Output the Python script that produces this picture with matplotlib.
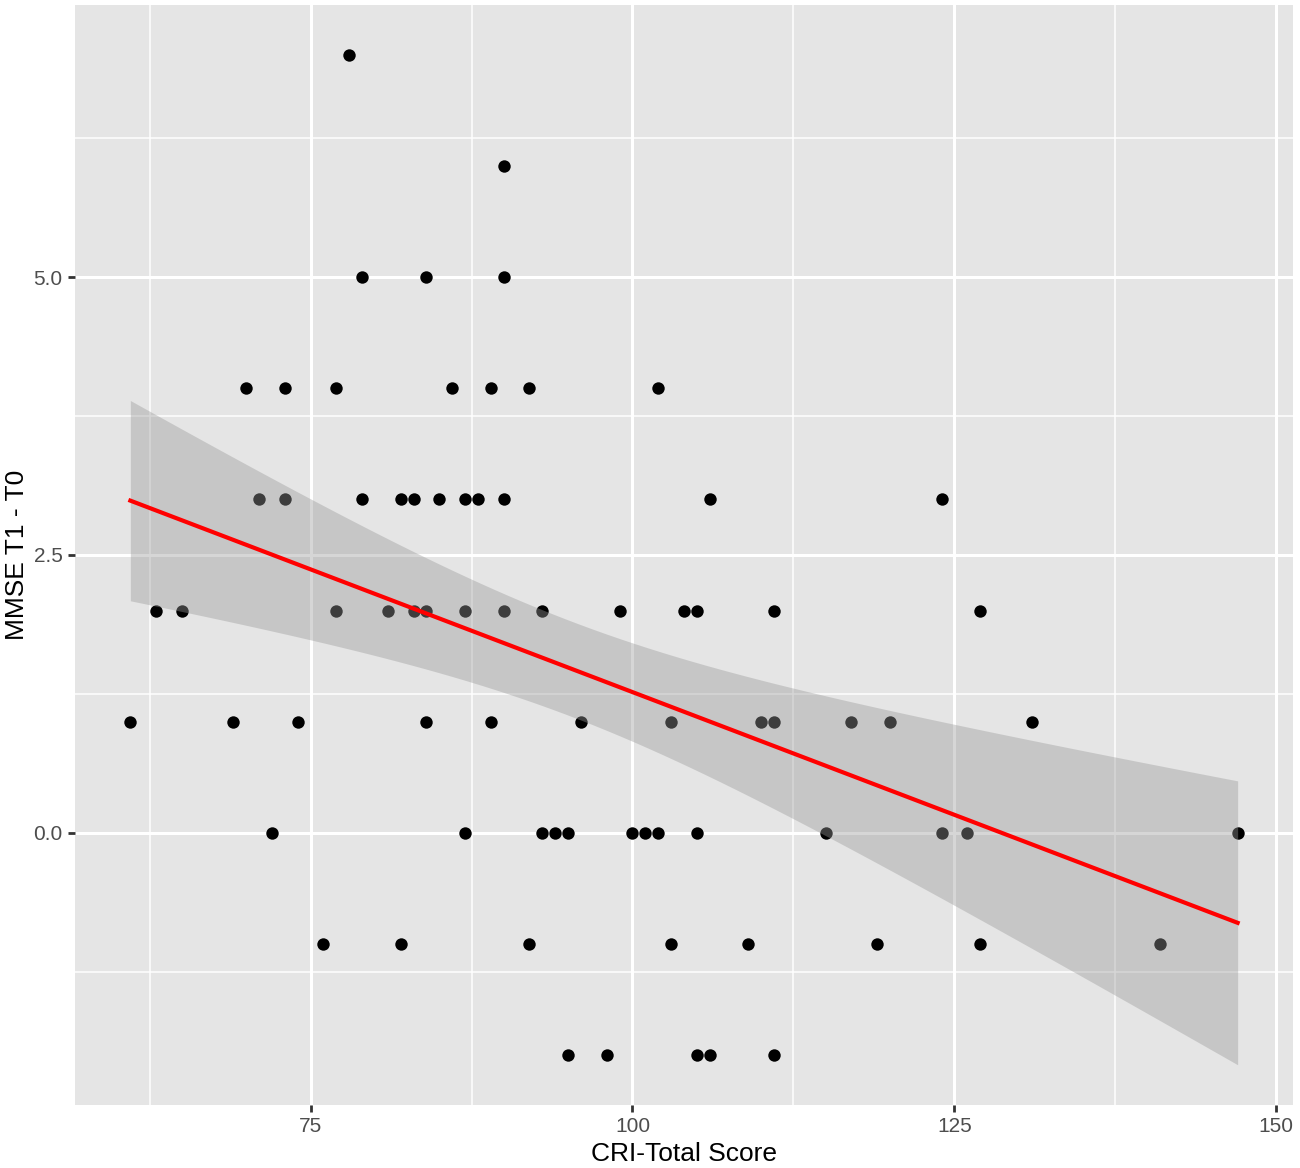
import matplotlib
matplotlib.use("Agg")
import matplotlib.pyplot as plt
import numpy as np

plt.rcParams['font.family'] = ['Liberation Sans', 'DejaVu Sans']

# CRI-Total Score vs change in MMSE (T1 - T0)
cri = [61, 63, 65, 69, 70, 71, 72, 73, 73, 74, 76, 77, 77, 78, 79, 79, 81, 82, 82,
       83, 83, 84, 84, 84, 85, 86, 87, 87, 87, 88, 89, 89, 90, 90, 90, 90, 92, 92,
       93, 93, 94, 95, 95, 96, 98, 99, 100, 101, 102, 102, 103, 103, 104, 105, 105,
       105, 106, 106, 109, 110, 111, 111, 111, 115, 117, 119, 120, 124, 124, 126,
       127, 127, 131, 141, 147]
mmse = [1, 2, 2, 1, 4, 3, 0, 4, 3, 1, -1, 4, 2, 7, 5, 3, 2, 3, -1,
        3, 2, 5, 2, 1, 3, 4, 3, 2, 0, 3, 4, 1, 6, 5, 3, 2, 4, -1,
        2, 0, 0, 0, -2, 1, -2, 2, 0, 0, 4, 0, 1, -1, 2, 2, 0,
        -2, 3, -2, -1, 1, 1, 2, -2, 0, 1, -1, 1, 3, 0, 0,
        2, -1, 1, -1, 0]

x_ticks = [75, 100, 125, 150]
y_ticks = [0.0, 2.5, 5.0]

x = np.array(cri, dtype=float)
y = np.array(mmse, dtype=float)

# linear fit with 95% confidence band (like geom_smooth(method = "lm"))
n = len(x)
slope, intercept = np.polyfit(x, y, 1)
xs = np.linspace(x.min(), x.max(), 80)
fit = intercept + slope * xs
resid = y - (intercept + slope * x)
s = np.sqrt(np.sum(resid ** 2) / (n - 2))
se = s * np.sqrt(1.0 / n + (xs - x.mean()) ** 2 / np.sum((x - x.mean()) ** 2))
tcrit = 1.9930  # t(0.975, df = 73)

fig = plt.figure(figsize=(13, 11.68), dpi=100)
ax = fig.add_axes([75 / 1300, 1 - 1105 / 1168, 1218 / 1300, 1100 / 1168])
ax.set_facecolor('#E5E5E5')

ax.scatter(x, y, s=80, color='black', zorder=3, linewidths=0)
ax.fill_between(xs, fit - tcrit * se, fit + tcrit * se, color='#999999',
                alpha=0.4, linewidth=0, zorder=4)
ax.plot(xs, fit, color='red', linewidth=3, zorder=5)

xpad = (x.max() - x.min()) * 0.05
ypad = (y.max() - y.min()) * 0.05
ax.set_xlim(x.min() - xpad, x.max() + xpad)
ax.set_ylim(y.min() - ypad, y.max() + ypad)

ax.set_xticks(x_ticks)
ax.set_yticks(y_ticks)
ax.set_yticklabels([f'{v:.1f}' for v in y_ticks])
ax.set_xticks([62.5, 87.5, 112.5, 137.5], minor=True)
ax.set_yticks([-1.25, 1.25, 3.75, 6.25], minor=True)

ax.grid(which='major', color='white', linewidth=2.2, zorder=0)
ax.grid(which='minor', color='white', linewidth=1.1, zorder=0)
ax.set_axisbelow(True)
for sp in ax.spines.values():
    sp.set_visible(False)

ax.tick_params(which='major', length=5, width=2, color='#333333',
               labelsize=15, labelcolor='#4D4D4D', pad=4)
ax.tick_params(which='minor', length=0)

ax.set_xlabel('CRI-Total Score', fontsize=19, labelpad=4)
ax.set_ylabel('MMSE T1 - T0', fontsize=19)
ax.yaxis.set_label_coords(-0.038, 0.5)

fig.savefig('out.png', dpi=100)
